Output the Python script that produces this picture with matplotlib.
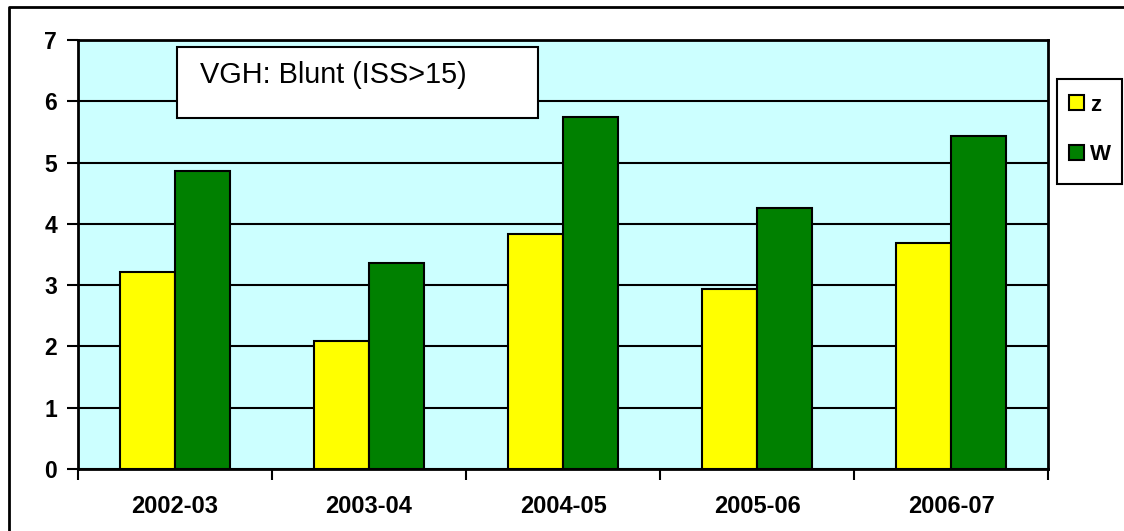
import matplotlib
matplotlib.use("Agg")
import matplotlib.pyplot as plt
import numpy as np
from matplotlib.patches import Rectangle
from matplotlib.lines import Line2D

years = ["2002-03", "2003-04", "2004-05", "2005-06", "2006-07"]
z_vals = [3.22, 2.09, 3.84, 2.94, 3.69]
w_vals = [4.86, 3.36, 5.75, 4.26, 5.43]
title_txt = "VGH: Blunt (ISS>15)"

plt.rcParams["font.family"] = ["Liberation Sans", "DejaVu Sans"]

W, H = 1124, 531
fig = plt.figure(figsize=(W / 100, H / 100), dpi=100)
fig.patch.set_facecolor("white")

# plot area in pixels: x 78..1048, y 40..469
ax = fig.add_axes([78 / W, 1 - 469 / H, 970 / W, 429 / H])
ax.set_facecolor("#CCFFFF")

x = np.arange(len(years))
bw = 0.286
ax.bar(x - bw / 2, z_vals, bw, color="#FFFF00", edgecolor="black", linewidth=1.5, zorder=2, label="z")
ax.bar(x + bw / 2, w_vals, bw, color="#008000", edgecolor="black", linewidth=1.5, zorder=2, label="W")

ax.set_xlim(-0.5, len(years) - 0.5)
ax.set_ylim(0, 7)
ax.set_yticks(range(0, 8))
ax.yaxis.grid(True, color="black", linewidth=1.5, zorder=0.5)
ax.set_axisbelow(True)

# ticks at category borders, labels in the middle
ax.set_xticks(np.arange(-0.5, len(years), 1))
ax.set_xticklabels([])
ax.set_xticks(x, minor=True)
ax.set_xticklabels(years, minor=True, fontsize=17, fontweight="bold")
ax.tick_params(axis="x", which="major", length=8, width=1.5, direction="out")
ax.tick_params(axis="x", which="minor", length=0, pad=19)
ax.tick_params(axis="y", length=8, width=1.5, direction="out", pad=7, labelsize=16.5)
for lab in ax.get_yticklabels():
    lab.set_fontweight("bold")

for s in ax.spines.values():
    s.set_linewidth(2)
    s.set_color("black")

# title box inside the plot
x0 = (177 - 78) / 970
x1 = (538 - 78) / 970
y1 = (469 - 47) / 429
y0 = (469 - 118) / 429
ax.add_patch(Rectangle((x0, y0), x1 - x0, y1 - y0, transform=ax.transAxes,
                       facecolor="white", edgecolor="black", linewidth=1.5, zorder=3))
ax.text((200 - 78) / 970, (469 - 83) / 429, title_txt, transform=ax.transAxes,
        fontsize=20.8, va="baseline", ha="left", zorder=4)

# legend
fig.add_artist(Rectangle((1057 / W, 1 - 184 / H), 65 / W, 105 / H, transform=fig.transFigure,
                         facecolor="white", edgecolor="black", linewidth=1.5))
leg = fig.legend(loc="center", bbox_to_anchor=(1090 / W, 1 - 130 / H), frameon=False,
                 prop={"size": 16, "weight": "bold"}, handlelength=0.68, handleheight=0.68,
                 handletextpad=0.27, labelspacing=1.3, borderpad=0)

# outer chart border
fig.add_artist(Line2D([9 / W, 9 / W, 1], [0, 1 - 7 / H, 1 - 7 / H], transform=fig.transFigure,
                      color="black", linewidth=2))

fig.savefig("out.png", dpi=100)
